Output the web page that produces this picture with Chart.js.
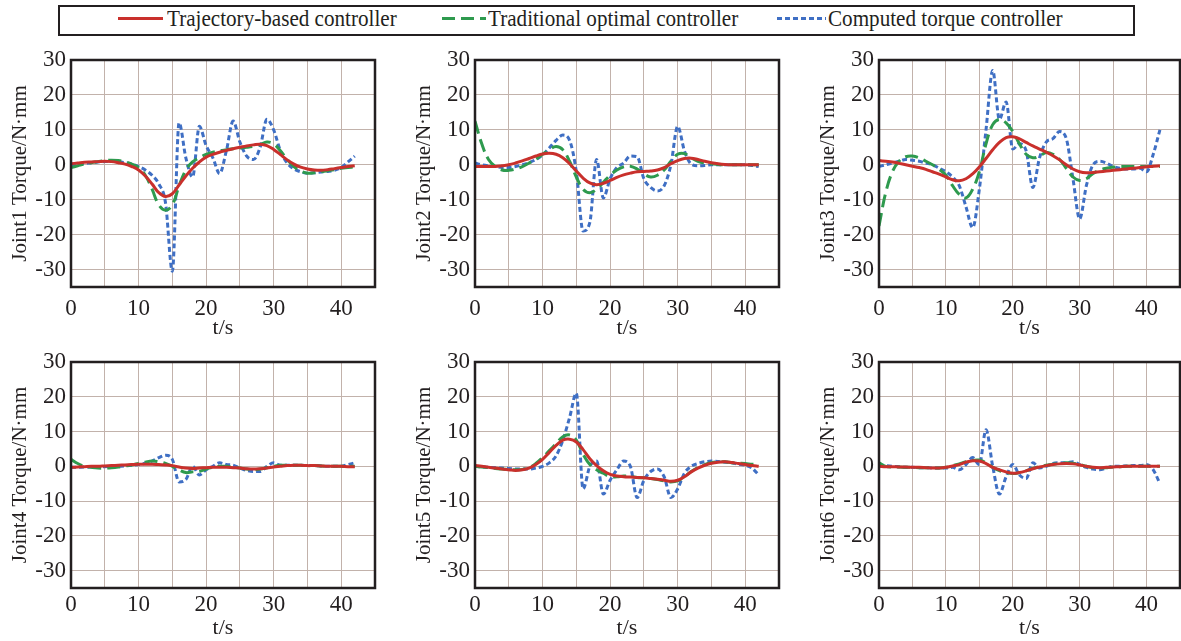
<!DOCTYPE html>
<html>
<head>
<meta charset="utf-8">
<script src="https://cdn.jsdelivr.net/npm/chart.js@4.4.1/dist/chart.umd.min.js"></script>
<style>
  body { margin: 0; width: 1181px; height: 641px; overflow: hidden; background: #fff; position: relative; font-family: "Liberation Serif", "Times New Roman", serif; color: #231f20; }
  canvas { position: absolute; }
  #legendBox { position: absolute; left: 58px; top: 5px; width: 1073px; height: 27px; border: 2.5px solid #231f20; }
  .sample { position: absolute; height: 3px; top: 17px; }
  .ltext { position: absolute; top: 4px; font-size: 24px; line-height: 28px; white-space: nowrap; transform: scaleX(0.88); transform-origin: left center; }
</style>
</head>
<body>
<div id="legendBox"></div>
<div class="sample" style="left:118px;width:45px;background:#c9302c"></div>
<div class="ltext" style="left:167px" id="lt0"></div>
<div class="sample" style="left:442px;width:44px;background:repeating-linear-gradient(90deg,#2e9a4e 0 13px,transparent 13px 19px)"></div>
<div class="ltext" style="left:488px" id="lt1"></div>
<div class="sample" style="left:777px;width:49px;background:repeating-linear-gradient(90deg,#3f6fc4 0 5px,transparent 5px 8px)"></div>
<div class="ltext" style="left:828px" id="lt2"></div>

<canvas id="c1"></canvas>
<canvas id="c2"></canvas>
<canvas id="c3"></canvas>
<canvas id="c4"></canvas>
<canvas id="c5"></canvas>
<canvas id="c6"></canvas>

<script>
// time axis, seconds
const timeS = [0,1,2,3,4,5,6,7,8,9,10,11,12,13,14,15,16,17,18,19,20,21,22,23,24,25,26,27,28,29,30,31,32,33,34,35,36,37,38,39,40,41,42];
const xTicks = [0,5,10,15,20,25,30,35,40,45];
const yTicks = [-35,-30,-20,-10,0,10,20,30];

const seriesNames = ['Trajectory-based controller', 'Traditional optimal controller', 'Computed torque controller'];
const jointTitles = ['Joint1 Torque/N·mm', 'Joint2 Torque/N·mm', 'Joint3 Torque/N·mm', 'Joint4 Torque/N·mm', 'Joint5 Torque/N·mm', 'Joint6 Torque/N·mm'];

// joint 1
const traj1 = [0.3,0.5,0.7,0.8,0.9,1.0,0.9,0.6,0.2,-0.5,-1.5,-3.2,-5.5,-8.0,-9.1,-8.3,-5.8,-3.2,-1.0,0.8,2.2,3.0,3.6,4.1,4.6,5.0,5.4,5.7,5.9,5.5,4.4,2.9,1.4,0.2,-0.7,-1.2,-1.5,-1.6,-1.4,-1.1,-0.8,-0.5,-0.3];
const trad1 = [-0.8,-0.3,0.2,0.6,0.9,1.2,1.3,1.2,0.8,0.2,-0.8,-3.0,-7.0,-11.5,-13.0,-11.5,-6.0,-1.5,0.8,2.0,3.0,3.6,4.0,4.3,4.6,4.8,5.0,5.3,5.8,6.5,6.0,4.0,1.5,-0.5,-1.8,-2.4,-2.3,-2.0,-1.7,-1.4,-1.0,-0.8,-0.6];
const comp1 = [-0.2,0.2,0.4,0.6,0.8,0.9,1.0,0.9,0.6,0.2,-0.5,-1.5,-3.0,-5.5,-11.0,-30.5,12.0,2.0,-3.5,11.0,5.5,2.0,-2.5,4.0,12.5,6.5,2.5,1.5,5.0,13.0,10.0,4.0,0.5,-1.2,-2.0,-2.4,-2.3,-2.1,-1.9,-1.6,-0.8,0.8,2.5];

// joint 2
const traj2 = [-0.5,-0.5,-0.5,-0.5,-0.3,0.0,0.5,1.1,1.8,2.5,3.1,3.3,3.0,2.0,0.3,-1.8,-3.8,-5.2,-5.7,-5.3,-4.5,-3.6,-2.9,-2.4,-2.0,-1.9,-1.8,-1.5,-0.8,0.3,1.2,1.8,1.9,1.5,1.0,0.6,0.3,0.1,0.0,0.0,0.0,0.0,0.0];
const trad2 = [12.5,6.0,1.5,-0.5,-1.5,-1.6,-1.2,-0.5,0.5,1.6,3.0,4.3,5.2,4.3,1.0,-3.5,-7.0,-8.0,-7.0,-5.0,-3.0,-1.5,-0.6,-0.4,-1.2,-2.6,-3.5,-3.0,-1.5,1.0,3.0,3.2,2.0,1.0,0.5,0.3,0.1,0.0,0.0,0.0,0.0,0.0,0.0];
const comp2 = [0.5,0.0,-0.3,-0.5,-0.8,-0.8,-0.5,0.0,0.6,1.5,2.8,4.8,7.0,8.5,7.0,-2.0,-19.0,-16.5,1.5,-9.5,-4.0,-0.8,0.5,2.5,2.3,-4.0,-6.5,-7.5,-6.0,0.0,11.0,4.0,0.2,-0.3,-0.2,0.0,0.0,0.0,0.0,0.0,0.0,-0.2,-0.5];

// joint 3
const traj3 = [1.2,1.0,0.8,0.4,0.0,-0.4,-0.8,-1.3,-2.0,-2.7,-3.5,-4.3,-4.6,-4.0,-2.6,-0.6,1.8,4.3,6.4,7.8,8.0,7.4,6.4,5.4,4.5,3.6,2.6,1.4,0.0,-1.2,-2.0,-2.3,-2.2,-2.0,-1.8,-1.6,-1.4,-1.2,-1.0,-0.8,-0.6,-0.4,-0.3];
const trad3 = [-17.5,-8.0,-2.0,1.0,2.3,2.5,2.0,1.0,0.0,-1.3,-3.0,-6.0,-8.5,-9.5,-7.0,-2.0,6.0,11.5,13.0,12.0,9.5,6.0,3.0,2.0,2.5,3.5,3.0,1.5,-1.0,-3.5,-4.5,-4.0,-2.5,-1.5,-1.0,-0.7,-0.5,-0.5,-0.5,-0.5,-0.5,-0.5,-0.5];
const comp3 = [-0.5,0.0,0.5,1.0,1.5,1.3,1.0,0.5,0.0,-1.0,-2.0,-3.5,-6.0,-12.0,-18.0,-7.0,10.0,27.0,13.0,18.0,4.5,6.0,4.0,-6.5,2.0,6.5,7.5,9.5,7.5,-4.0,-15.5,-6.0,0.0,1.0,0.5,-0.5,-1.0,-1.2,-1.2,-1.0,-2.0,3.0,10.0];

// joint 4
const traj4 = [-0.3,-0.2,-0.1,0.0,0.0,0.1,0.2,0.3,0.4,0.5,0.6,0.6,0.6,0.5,0.4,0.2,-0.2,-0.5,-0.6,-0.5,-0.4,-0.3,-0.3,-0.3,-0.4,-0.5,-0.7,-0.8,-0.7,-0.5,-0.2,0.0,0.2,0.3,0.3,0.2,0.2,0.1,0.0,0.0,0.0,-0.1,-0.1];
const trad4 = [2.0,0.8,0.0,-0.3,-0.5,-0.5,-0.4,-0.2,0.1,0.4,0.8,1.2,1.5,1.3,0.8,0.0,-1.0,-1.8,-1.6,-1.5,-0.8,-0.3,0.0,0.0,-0.2,-0.5,-0.8,-1.0,-0.8,-0.4,0.0,0.3,0.3,0.3,0.3,0.2,0.2,0.1,0.0,0.0,0.0,0.0,0.0];
const comp4 = [-0.3,-0.3,-0.2,-0.2,-0.2,-0.1,0.0,0.0,0.1,0.3,0.5,0.9,1.5,2.5,3.2,2.0,-4.5,-3.8,0.0,-2.5,-1.0,0.0,1.0,0.5,0.3,-0.5,-1.2,-1.5,-1.5,0.0,1.0,0.3,0.3,0.3,0.3,0.2,0.2,0.1,0.0,0.0,0.0,0.5,1.0];

// joint 5
const traj5 = [0.2,0.0,-0.3,-0.5,-0.8,-1.0,-1.2,-1.0,-0.5,0.5,2.0,4.0,6.0,7.5,7.8,7.0,4.8,2.2,0.2,-1.3,-2.3,-2.8,-3.0,-3.1,-3.2,-3.3,-3.5,-3.7,-4.0,-4.3,-4.0,-3.0,-1.6,-0.5,0.3,0.9,1.2,1.3,1.1,0.8,0.5,0.2,0.0];
const trad5 = [0.0,-0.2,-0.4,-0.6,-0.8,-0.9,-1.0,-0.9,-0.4,0.8,2.5,4.5,6.5,8.5,9.0,7.5,3.5,0.5,-1.0,-2.0,-3.0,-3.0,-2.8,-2.9,-3.2,-3.3,-3.5,-3.8,-4.2,-4.5,-4.2,-3.0,-1.5,-0.3,0.5,1.0,1.3,1.3,1.0,0.9,0.8,0.6,0.5];
const comp5 = [0.0,-0.2,-0.3,-0.4,-0.5,-0.6,-0.8,-0.8,-0.8,-0.5,0.0,1.0,3.0,7.5,14.0,21.0,-6.5,0.0,1.5,-8.0,-4.0,-1.0,1.5,0.0,-9.0,-4.0,-1.5,-0.8,-3.0,-9.0,-6.5,-2.0,0.0,0.8,1.3,1.5,1.4,1.2,1.0,0.6,0.3,-0.5,-2.5];

// joint 6
const traj6 = [0.0,-0.1,-0.1,-0.2,-0.2,-0.3,-0.3,-0.4,-0.5,-0.5,-0.3,0.1,0.5,1.2,1.6,1.5,0.8,-0.3,-1.0,-1.6,-2.0,-1.8,-1.3,-0.7,-0.2,0.2,0.5,0.7,0.8,0.7,0.4,0.0,-0.3,-0.4,-0.3,-0.2,-0.1,0.0,0.0,0.0,0.0,0.0,0.0];
const trad6 = [1.0,0.0,-0.2,-0.2,-0.3,-0.3,-0.4,-0.4,-0.5,-0.5,-0.3,0.2,0.7,1.3,1.7,1.8,1.0,-0.3,-1.2,-1.8,-2.1,-1.8,-1.3,-0.6,-0.1,0.3,0.6,0.8,1.0,0.9,0.5,0.0,-0.4,-0.5,-0.4,-0.2,-0.1,0.0,0.0,0.0,0.0,0.0,0.0];
const comp6 = [0.5,0.2,0.0,-0.1,-0.3,-0.3,-0.4,-0.4,-0.5,-0.5,-0.5,-0.3,-1.0,0.5,2.5,0.5,10.5,0.0,-8.0,-3.0,0.5,-2.5,-3.5,1.0,-0.5,0.0,0.8,1.0,1.0,1.3,0.5,-0.3,-0.8,-1.0,-0.5,0.0,0.0,0.1,0.2,0.2,0.5,-1.0,-5.0];

const joints = [
  [traj1, trad1, comp1],
  [traj2, trad2, comp2],
  [traj3, trad3, comp3],
  [traj4, trad4, comp4],
  [traj5, trad5, comp5],
  [traj6, trad6, comp6]
];

// styling
const lineColors = ['#c9302c', '#2e9a4e', '#3f6fc4'];
const lineDashes = [[], [13, 6], [5, 3]];
const lineModes = ['default', 'default', 'monotone'];
const gridColor = '#c2b2ab';
const inkColor = '#231f20';
const fontFamily = '"Liberation Serif", "Times New Roman", serif';

// page layout of the plot areas
const colLeft = [71, 475, 879];
const plotW = [304, 304, 301];
const rowTop = [60, 362];
const plotH = [227, 226];
const canvasH = [305, 299];
const xLabelPad = [8, 3];
const xTitlePad = [4, 0];
const padTop = 20, padRight = 12, yAxisW = 71;

seriesNames.forEach((n, i) => { document.getElementById('lt' + i).textContent = n; });

const framePlugin = {
  id: 'frame',
  afterDraw(chart) {
    const { ctx, chartArea: a } = chart;
    ctx.save();
    ctx.strokeStyle = inkColor;
    ctx.lineWidth = 2.5;
    ctx.strokeRect(a.left, a.top, a.right - a.left, a.bottom - a.top);
    ctx.restore();
  }
};

function makePanel(idx) {
  const col = idx % 3, row = Math.floor(idx / 3);
  const canvas = document.getElementById('c' + (idx + 1));
  const w = yAxisW + plotW[col] + padRight;
  const h = canvasH[row];
  canvas.width = w;
  canvas.height = h;
  canvas.style.left = (colLeft[col] - yAxisW) + 'px';
  canvas.style.top = (rowTop[row] - padTop) + 'px';

  const datasets = joints[idx].map((vals, s) => ({
    label: seriesNames[s],
    data: timeS.map((t, k) => ({ x: t, y: vals[k] })),
    borderColor: lineColors[s],
    borderWidth: 3,
    borderDash: lineDashes[s],
    pointRadius: 0,
    fill: false,
    tension: 0.4,
    cubicInterpolationMode: lineModes[s]
  }));

  new Chart(canvas.getContext('2d'), {
    type: 'line',
    data: { datasets: datasets },
    plugins: [framePlugin],
    options: {
      responsive: false,
      animation: false,
      devicePixelRatio: 1,
      layout: { padding: { top: padTop, right: padRight, left: 0, bottom: 0 } },
      plugins: { legend: { display: false }, tooltip: { enabled: false } },
      scales: {
        x: {
          type: 'linear',
          min: 0,
          max: 45,
          afterBuildTicks: (scale) => { scale.ticks = xTicks.map(v => ({ value: v })); },
          afterFit: (scale) => { scale.height = h - padTop - plotH[row]; },
          ticks: {
            autoSkip: false,
            maxRotation: 0,
            padding: xLabelPad[row],
            color: inkColor,
            font: { family: fontFamily, size: 23 },
            callback: (v) => (v % 10 === 0 && v <= 40) ? String(v) : ''
          },
          grid: { color: gridColor, lineWidth: 1, drawTicks: false },
          border: { display: false },
          title: {
            display: true,
            text: 't/s',
            color: inkColor,
            font: { family: fontFamily, size: 22 },
            padding: { top: 0, bottom: xTitlePad[row] }
          }
        },
        y: {
          min: -35,
          max: 30,
          afterBuildTicks: (scale) => { scale.ticks = yTicks.map(v => ({ value: v })); },
          afterFit: (scale) => { scale.width = yAxisW; },
          ticks: {
            autoSkip: false,
            padding: 5,
            color: inkColor,
            font: { family: fontFamily, size: 23 },
            callback: (v) => v === -35 ? '' : String(v)
          },
          grid: { color: gridColor, lineWidth: 1, drawTicks: false },
          border: { display: false },
          title: {
            display: true,
            text: jointTitles[idx],
            color: inkColor,
            font: { family: fontFamily, size: 21 },
            padding: { top: 8, bottom: 0 }
          }
        }
      }
    }
  });
}

for (let i = 0; i < 6; i++) makePanel(i);
</script>
</body>
</html>
